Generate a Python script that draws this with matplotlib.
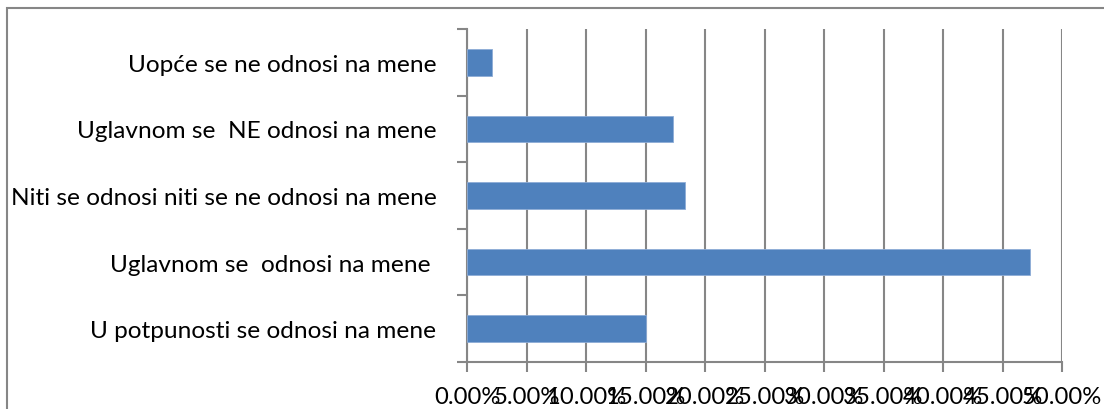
import numpy as np
import matplotlib.pyplot as plt
from matplotlib.patches import Rectangle

plt.rcParams['font.family'] = ['Lato', 'DejaVu Sans']

# Kategorije (odozdo prema gore) i udjeli u postocima
categories = [
    'U potpunosti se odnosi na mene',
    'Uglavnom se  odnosi na mene ',
    'Niti se odnosi niti se ne odnosi na mene',
    'Uglavnom se  NE odnosi na mene',
    'Uopće se ne odnosi na mene',
]
values = [15.0, 47.3, 18.3, 17.3, 2.1]
x_ticks = np.arange(0, 50.1, 5)
x_labels = ['%.2f%%' % t for t in x_ticks]

grey = '#868686'

fig = plt.figure(figsize=(11.04, 4.10), dpi=100)
ax = fig.add_axes([467 / 1104, 1 - 363 / 410, (1062 - 467) / 1104, (363 - 30) / 410])

y = np.arange(len(categories))
ax.barh(y, values, height=0.4, color='#4F81BD', edgecolor='#8EACD6', linewidth=0.6, zorder=3)

ax.set_xlim(0, 50)
ax.set_ylim(-0.5, len(categories) - 0.5)

ax.set_xticks(x_ticks)
ax.set_xticklabels(x_labels, fontsize=17.2)
ax.xaxis.grid(True, color=grey, linewidth=1.5, zorder=0)
ax.tick_params(axis='x', length=7, width=1.5, color=grey, pad=10)

# etikete kategorija bez crtica, crtice na granicama
ax.set_yticks(y)
ax.set_yticklabels(categories, fontsize=17.6)
ax.tick_params(axis='y', length=0, pad=22)
ax.set_yticks(np.arange(-0.5, len(categories)), minor=True)
ax.tick_params(axis='y', which='minor', length=7, width=1.5, color=grey)

for side in ['top', 'right']:
    ax.spines[side].set_visible(False)
for side in ['left', 'bottom']:
    ax.spines[side].set_color(grey)
    ax.spines[side].set_linewidth(1.5)

# okvir grafikona
fig.patches.append(Rectangle((7 / 1104, -0.05), 1100 / 1104, 1 - 9 / 410 + 0.05,
                             transform=fig.transFigure, fill=False,
                             edgecolor=grey, linewidth=1.5))

fig.savefig('out.png', dpi=100)
